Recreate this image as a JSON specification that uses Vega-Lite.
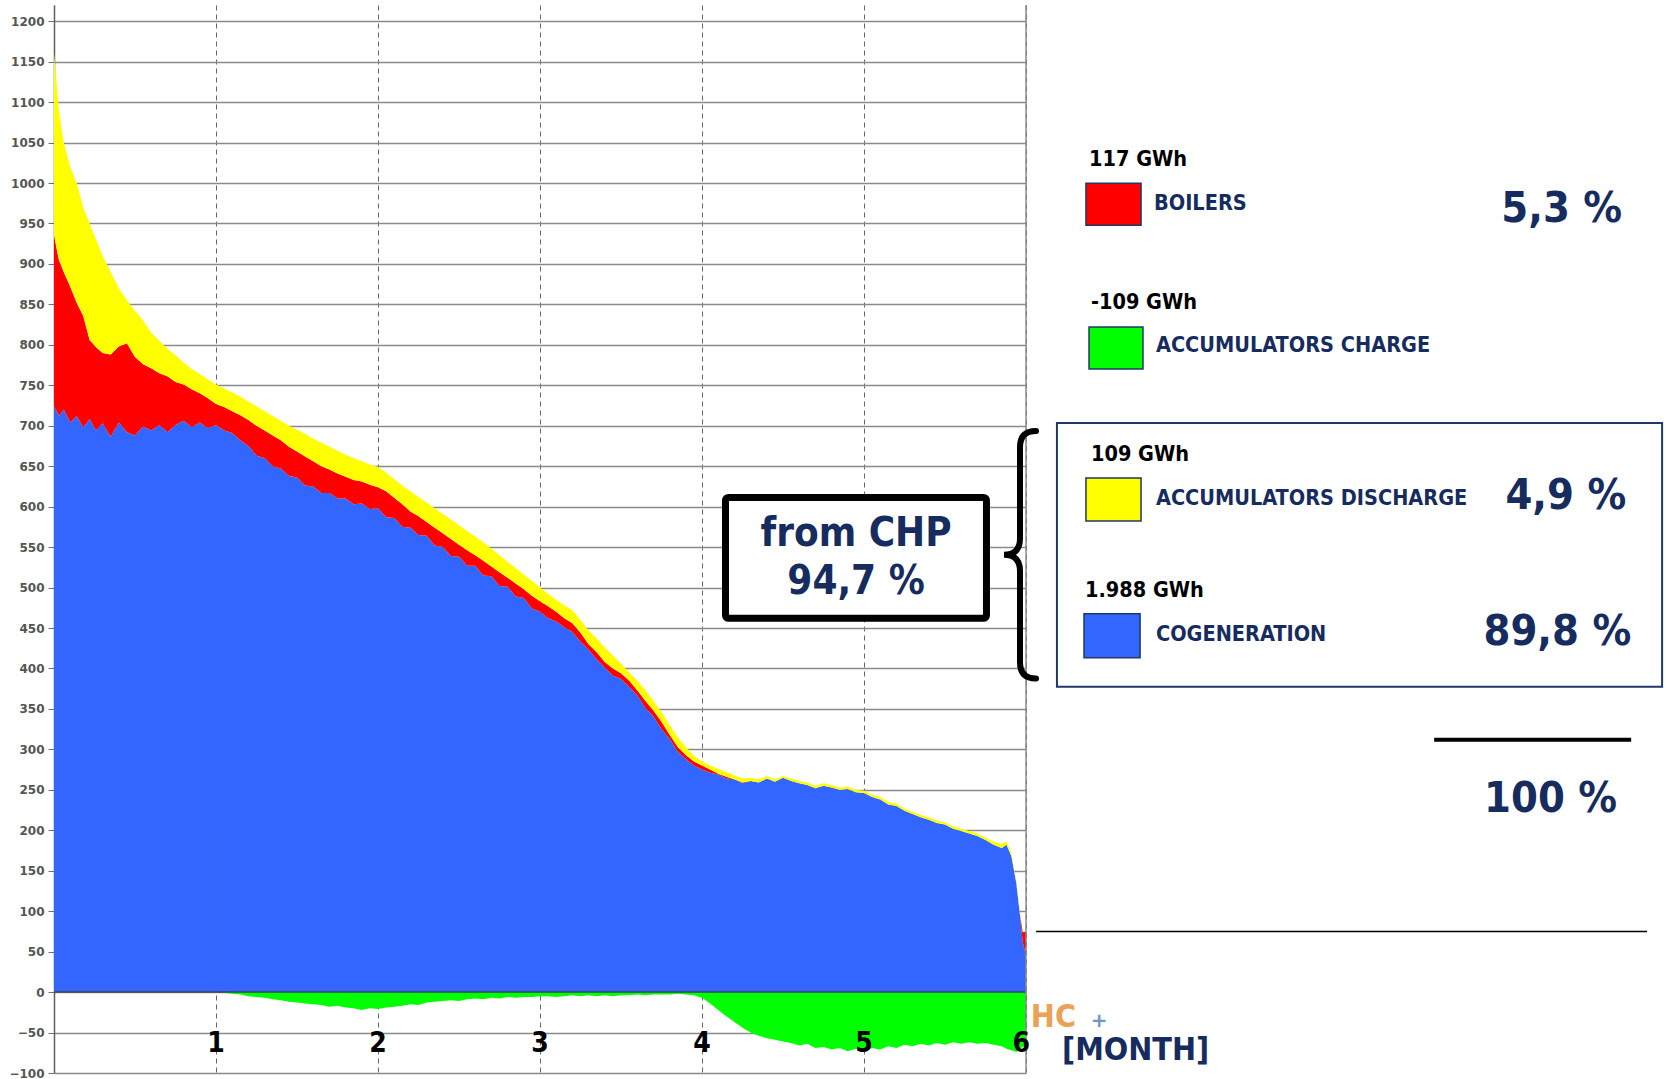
{
  "$schema": "https://vega.github.io/schema/vega-lite/v6.json",
  "background": "white",
  "padding": {"left": 8, "top": 4, "right": 0, "bottom": 0},
  "bounds": "flush",
  "spacing": 0,
  "config": {"view": {"stroke": null}, "font": "DejaVu Sans"},
  "datasets": {
    "load": [
      {"month":0.00,"cogeneration":725,"boilers":210,"accumulators_discharge":225,"accumulators_charge":0},
      {"month":0.03,"cogeneration":712,"boilers":193,"accumulators_discharge":185,"accumulators_charge":0},
      {"month":0.06,"cogeneration":720,"boilers":170,"accumulators_discharge":160,"accumulators_charge":0},
      {"month":0.10,"cogeneration":704,"boilers":168,"accumulators_discharge":148,"accumulators_charge":0},
      {"month":0.14,"cogeneration":712,"boilers":140,"accumulators_discharge":148,"accumulators_charge":0},
      {"month":0.18,"cogeneration":698,"boilers":138,"accumulators_discharge":134,"accumulators_charge":0},
      {"month":0.22,"cogeneration":708,"boilers":98,"accumulators_discharge":144,"accumulators_charge":0},
      {"month":0.26,"cogeneration":694,"boilers":103,"accumulators_discharge":133,"accumulators_charge":0},
      {"month":0.30,"cogeneration":703,"boilers":87,"accumulators_discharge":120,"accumulators_charge":0},
      {"month":0.35,"cogeneration":686,"boilers":102,"accumulators_discharge":102,"accumulators_charge":0},
      {"month":0.40,"cogeneration":704,"boilers":94,"accumulators_discharge":72,"accumulators_charge":0},
      {"month":0.45,"cogeneration":692,"boilers":110,"accumulators_discharge":53,"accumulators_charge":0},
      {"month":0.50,"cogeneration":688,"boilers":97,"accumulators_discharge":57,"accumulators_charge":0},
      {"month":0.55,"cogeneration":699,"boilers":77,"accumulators_discharge":54,"accumulators_charge":0},
      {"month":0.60,"cogeneration":694,"boilers":77,"accumulators_discharge":44,"accumulators_charge":0},
      {"month":0.65,"cogeneration":701,"boilers":64,"accumulators_discharge":40,"accumulators_charge":0},
      {"month":0.70,"cogeneration":692,"boilers":69,"accumulators_discharge":34,"accumulators_charge":0},
      {"month":0.75,"cogeneration":701,"boilers":53,"accumulators_discharge":33,"accumulators_charge":0},
      {"month":0.80,"cogeneration":706,"boilers":45,"accumulators_discharge":27,"accumulators_charge":0},
      {"month":0.85,"cogeneration":698,"boilers":47,"accumulators_discharge":25,"accumulators_charge":0},
      {"month":0.90,"cogeneration":704,"boilers":36,"accumulators_discharge":24,"accumulators_charge":0},
      {"month":0.95,"cogeneration":697,"boilers":37,"accumulators_discharge":23,"accumulators_charge":0},
      {"month":1.00,"cogeneration":701,"boilers":26,"accumulators_discharge":24,"accumulators_charge":0},
      {"month":1.05,"cogeneration":694,"boilers":29,"accumulators_discharge":23,"accumulators_charge":-1},
      {"month":1.10,"cogeneration":691,"boilers":27,"accumulators_discharge":23,"accumulators_charge":-2},
      {"month":1.15,"cogeneration":682,"boilers":31,"accumulators_discharge":23,"accumulators_charge":-3},
      {"month":1.20,"cogeneration":675,"boilers":32,"accumulators_discharge":23,"accumulators_charge":-5},
      {"month":1.25,"cogeneration":663,"boilers":37,"accumulators_discharge":24,"accumulators_charge":-6},
      {"month":1.30,"cogeneration":660,"boilers":34,"accumulators_discharge":24,"accumulators_charge":-7},
      {"month":1.35,"cogeneration":650,"boilers":38,"accumulators_discharge":24,"accumulators_charge":-9},
      {"month":1.40,"cogeneration":647,"boilers":35,"accumulators_discharge":24,"accumulators_charge":-10},
      {"month":1.45,"cogeneration":638,"boilers":36,"accumulators_discharge":26,"accumulators_charge":-12},
      {"month":1.50,"cogeneration":636,"boilers":32,"accumulators_discharge":27,"accumulators_charge":-13},
      {"month":1.55,"cogeneration":626,"boilers":36,"accumulators_discharge":28,"accumulators_charge":-14},
      {"month":1.60,"cogeneration":625,"boilers":31,"accumulators_discharge":28,"accumulators_charge":-15},
      {"month":1.65,"cogeneration":617,"boilers":33,"accumulators_discharge":29,"accumulators_charge":-16},
      {"month":1.70,"cogeneration":617,"boilers":29,"accumulators_discharge":28,"accumulators_charge":-18},
      {"month":1.75,"cogeneration":610,"boilers":31,"accumulators_discharge":28,"accumulators_charge":-17},
      {"month":1.80,"cogeneration":610,"boilers":27,"accumulators_discharge":27,"accumulators_charge":-19},
      {"month":1.85,"cogeneration":603,"boilers":30,"accumulators_discharge":27,"accumulators_charge":-20},
      {"month":1.90,"cogeneration":604,"boilers":27,"accumulators_discharge":25,"accumulators_charge":-22},
      {"month":1.95,"cogeneration":597,"boilers":30,"accumulators_discharge":25,"accumulators_charge":-20},
      {"month":2.00,"cogeneration":598,"boilers":26,"accumulators_discharge":25,"accumulators_charge":-21},
      {"month":2.05,"cogeneration":587,"boilers":32,"accumulators_discharge":23,"accumulators_charge":-19},
      {"month":2.10,"cogeneration":586,"boilers":25,"accumulators_discharge":23,"accumulators_charge":-18},
      {"month":2.15,"cogeneration":575,"boilers":28,"accumulators_discharge":23,"accumulators_charge":-17},
      {"month":2.20,"cogeneration":574,"boilers":20,"accumulators_discharge":25,"accumulators_charge":-15},
      {"month":2.25,"cogeneration":565,"boilers":23,"accumulators_discharge":24,"accumulators_charge":-16},
      {"month":2.30,"cogeneration":564,"boilers":17,"accumulators_discharge":24,"accumulators_charge":-13},
      {"month":2.35,"cogeneration":552,"boilers":22,"accumulators_discharge":24,"accumulators_charge":-12},
      {"month":2.40,"cogeneration":550,"boilers":17,"accumulators_discharge":24,"accumulators_charge":-11},
      {"month":2.45,"cogeneration":539,"boilers":21,"accumulators_discharge":24,"accumulators_charge":-10},
      {"month":2.50,"cogeneration":538,"boilers":15,"accumulators_discharge":24,"accumulators_charge":-11},
      {"month":2.55,"cogeneration":527,"boilers":19,"accumulators_discharge":24,"accumulators_charge":-9},
      {"month":2.60,"cogeneration":527,"boilers":13,"accumulators_discharge":23,"accumulators_charge":-8},
      {"month":2.65,"cogeneration":515,"boilers":18,"accumulators_discharge":23,"accumulators_charge":-9},
      {"month":2.70,"cogeneration":514,"boilers":12,"accumulators_discharge":22,"accumulators_charge":-7},
      {"month":2.75,"cogeneration":502,"boilers":17,"accumulators_discharge":21,"accumulators_charge":-8},
      {"month":2.80,"cogeneration":501,"boilers":11,"accumulators_discharge":20,"accumulators_charge":-6},
      {"month":2.85,"cogeneration":489,"boilers":16,"accumulators_discharge":19,"accumulators_charge":-7},
      {"month":2.90,"cogeneration":487,"boilers":11,"accumulators_discharge":18,"accumulators_charge":-6},
      {"month":2.95,"cogeneration":474,"boilers":16,"accumulators_discharge":18,"accumulators_charge":-6},
      {"month":3.00,"cogeneration":470,"boilers":13,"accumulators_discharge":17,"accumulators_charge":-5},
      {"month":3.05,"cogeneration":462,"boilers":15,"accumulators_discharge":15,"accumulators_charge":-5},
      {"month":3.10,"cogeneration":458,"boilers":12,"accumulators_discharge":15,"accumulators_charge":-6},
      {"month":3.15,"cogeneration":451,"boilers":11,"accumulators_discharge":16,"accumulators_charge":-5},
      {"month":3.20,"cogeneration":445,"boilers":11,"accumulators_discharge":16,"accumulators_charge":-4},
      {"month":3.25,"cogeneration":433,"boilers":11,"accumulators_discharge":16,"accumulators_charge":-5},
      {"month":3.30,"cogeneration":423,"boilers":7,"accumulators_discharge":17,"accumulators_charge":-4},
      {"month":3.35,"cogeneration":411,"boilers":9,"accumulators_discharge":17,"accumulators_charge":-5},
      {"month":3.40,"cogeneration":401,"boilers":7,"accumulators_discharge":18,"accumulators_charge":-4},
      {"month":3.45,"cogeneration":391,"boilers":9,"accumulators_discharge":16,"accumulators_charge":-5},
      {"month":3.50,"cogeneration":387,"boilers":7,"accumulators_discharge":12,"accumulators_charge":-4},
      {"month":3.55,"cogeneration":377,"boilers":8,"accumulators_discharge":10,"accumulators_charge":-4},
      {"month":3.60,"cogeneration":367,"boilers":6,"accumulators_discharge":12,"accumulators_charge":-3},
      {"month":3.65,"cogeneration":351,"boilers":9,"accumulators_discharge":13,"accumulators_charge":-4},
      {"month":3.70,"cogeneration":341,"boilers":7,"accumulators_discharge":12,"accumulators_charge":-3},
      {"month":3.75,"cogeneration":325,"boilers":9,"accumulators_discharge":12,"accumulators_charge":-3},
      {"month":3.80,"cogeneration":313,"boilers":5,"accumulators_discharge":12,"accumulators_charge":-3},
      {"month":3.85,"cogeneration":297,"boilers":6,"accumulators_discharge":12,"accumulators_charge":-2},
      {"month":3.90,"cogeneration":288,"boilers":5,"accumulators_discharge":10,"accumulators_charge":-3},
      {"month":3.95,"cogeneration":280,"boilers":5,"accumulators_discharge":7,"accumulators_charge":-4},
      {"month":4.00,"cogeneration":275,"boilers":5,"accumulators_discharge":5,"accumulators_charge":-7},
      {"month":4.05,"cogeneration":271,"boilers":4,"accumulators_discharge":5,"accumulators_charge":-14},
      {"month":4.10,"cogeneration":269,"boilers":1,"accumulators_discharge":6,"accumulators_charge":-22},
      {"month":4.15,"cogeneration":264,"boilers":2,"accumulators_discharge":6,"accumulators_charge":-30},
      {"month":4.20,"cogeneration":263,"boilers":0,"accumulators_discharge":5,"accumulators_charge":-37},
      {"month":4.25,"cogeneration":258,"boilers":1,"accumulators_discharge":5,"accumulators_charge":-44},
      {"month":4.30,"cogeneration":261,"boilers":0,"accumulators_discharge":4,"accumulators_charge":-50},
      {"month":4.35,"cogeneration":259,"boilers":0,"accumulators_discharge":4,"accumulators_charge":-54},
      {"month":4.40,"cogeneration":264,"boilers":0,"accumulators_discharge":3,"accumulators_charge":-57},
      {"month":4.45,"cogeneration":260,"boilers":0,"accumulators_discharge":3,"accumulators_charge":-59},
      {"month":4.50,"cogeneration":265,"boilers":0,"accumulators_discharge":2,"accumulators_charge":-61},
      {"month":4.55,"cogeneration":261,"boilers":0,"accumulators_discharge":3,"accumulators_charge":-63},
      {"month":4.60,"cogeneration":258,"boilers":0,"accumulators_discharge":3,"accumulators_charge":-66},
      {"month":4.65,"cogeneration":256,"boilers":0,"accumulators_discharge":3,"accumulators_charge":-64},
      {"month":4.70,"cogeneration":252,"boilers":0,"accumulators_discharge":3,"accumulators_charge":-69},
      {"month":4.75,"cogeneration":255,"boilers":0,"accumulators_discharge":3,"accumulators_charge":-68},
      {"month":4.80,"cogeneration":253,"boilers":0,"accumulators_discharge":3,"accumulators_charge":-71},
      {"month":4.85,"cogeneration":250,"boilers":0,"accumulators_discharge":3,"accumulators_charge":-69},
      {"month":4.90,"cogeneration":251,"boilers":0,"accumulators_discharge":3,"accumulators_charge":-73},
      {"month":4.95,"cogeneration":247,"boilers":0,"accumulators_discharge":3,"accumulators_charge":-70},
      {"month":5.00,"cogeneration":246,"boilers":0,"accumulators_discharge":3,"accumulators_charge":-73},
      {"month":5.05,"cogeneration":241,"boilers":0,"accumulators_discharge":3,"accumulators_charge":-69},
      {"month":5.10,"cogeneration":238,"boilers":0,"accumulators_discharge":3,"accumulators_charge":-71},
      {"month":5.15,"cogeneration":232,"boilers":0,"accumulators_discharge":3,"accumulators_charge":-67},
      {"month":5.20,"cogeneration":230,"boilers":0,"accumulators_discharge":3,"accumulators_charge":-69},
      {"month":5.25,"cogeneration":224,"boilers":0,"accumulators_discharge":3,"accumulators_charge":-65},
      {"month":5.30,"cogeneration":220,"boilers":0,"accumulators_discharge":3,"accumulators_charge":-67},
      {"month":5.35,"cogeneration":216,"boilers":0,"accumulators_discharge":3,"accumulators_charge":-64},
      {"month":5.40,"cogeneration":213,"boilers":0,"accumulators_discharge":3,"accumulators_charge":-66},
      {"month":5.45,"cogeneration":209,"boilers":0,"accumulators_discharge":3,"accumulators_charge":-63},
      {"month":5.50,"cogeneration":207,"boilers":0,"accumulators_discharge":3,"accumulators_charge":-65},
      {"month":5.55,"cogeneration":202,"boilers":0,"accumulators_discharge":3,"accumulators_charge":-62},
      {"month":5.60,"cogeneration":199,"boilers":0,"accumulators_discharge":3,"accumulators_charge":-64},
      {"month":5.65,"cogeneration":196,"boilers":0,"accumulators_discharge":3,"accumulators_charge":-62},
      {"month":5.70,"cogeneration":193,"boilers":0,"accumulators_discharge":3,"accumulators_charge":-64},
      {"month":5.75,"cogeneration":188,"boilers":0,"accumulators_discharge":3,"accumulators_charge":-63},
      {"month":5.80,"cogeneration":182,"boilers":0,"accumulators_discharge":4,"accumulators_charge":-65},
      {"month":5.85,"cogeneration":178,"boilers":0,"accumulators_discharge":5,"accumulators_charge":-67},
      {"month":5.88,"cogeneration":182,"boilers":0,"accumulators_discharge":4,"accumulators_charge":-70},
      {"month":5.91,"cogeneration":168,"boilers":0,"accumulators_discharge":4,"accumulators_charge":-72},
      {"month":5.94,"cogeneration":135,"boilers":0,"accumulators_discharge":3,"accumulators_charge":-74},
      {"month":5.96,"cogeneration":100,"boilers":0,"accumulators_discharge":2,"accumulators_charge":-70},
      {"month":5.98,"cogeneration":62,"boilers":12,"accumulators_discharge":1,"accumulators_charge":-68},
      {"month":6.00,"cogeneration":45,"boilers":30,"accumulators_discharge":0,"accumulators_charge":-65}
    ]
  },
  "hconcat": [
    {
      "width": 972,
      "height": 1068,
      "layer": [
        {
          "data": {"name": "load"},
          "transform": [
            {"fold": ["cogeneration", "boilers", "accumulators_discharge", "accumulators_charge"], "as": ["source", "mw"]},
            {"stack": "mw", "groupby": ["month"], "sort": [{"field": "source", "order": "descending"}], "offset": "zero", "as": ["lo", "hi"]}
          ],
          "mark": {"type": "area", "interpolate": "linear"},
          "encoding": {
            "x": {
              "field": "month", "type": "quantitative",
              "scale": {"domain": [0, 6], "nice": false, "zero": false},
              "axis": {
                "values": [0, 1, 2, 3, 4, 5, 6], "title": null,
                "grid": true, "gridDash": [5, 4], "gridColor": "#666666", "gridWidth": 1,
                "domain": false, "ticks": false, "labels": false
              }
            },
            "y": {
              "field": "hi", "type": "quantitative",
              "scale": {"domain": [-100, 1220], "nice": false, "zero": false},
              "axis": {
                "values": [-100, -50, 0, 50, 100, 150, 200, 250, 300, 350, 400, 450, 500, 550, 600, 650, 700, 750, 800, 850, 900, 950, 1000, 1050, 1100, 1150, 1200],
                "title": null, "format": "d", "grid": true, "gridColor": "#8a8a8a", "gridWidth": 1.5,
                "domainColor": "#606060", "domainWidth": 1.5,
                "tickColor": "#707070", "tickSize": 6,
                "labelFont": "DejaVu Sans", "labelFontWeight": "bold", "labelFontSize": 12,
                "labelColor": "#555555", "labelPadding": 4
              }
            },
            "y2": {"field": "lo"},
            "color": {
              "field": "source", "type": "nominal",
              "scale": {"domain": ["cogeneration", "boilers", "accumulators_discharge", "accumulators_charge"], "range": ["#3366FF", "#FF0000", "#FFFF00", "#00FF00"]},
              "legend": null
            }
          }
        },
        {
          "data": {"values": [{}]},
          "mark": {"type": "rule", "color": "#3b4256", "strokeWidth": 1.5},
          "encoding": {"y": {"datum": 0}}
        },
        {
          "data": {"values": [{}]},
          "mark": {"type": "rule", "color": "#8a8a8a", "strokeWidth": 1.5},
          "encoding": {"x": {"datum": 6}}
        },
        {
          "data": {"values": [{"month": 1}, {"month": 2}, {"month": 3}, {"month": 4}, {"month": 5}]},
          "mark": {"type": "text", "align": "center", "baseline": "middle", "font": "Liberation Sans Narrow, DejaVu Sans Condensed, Liberation Sans", "fontWeight": "bold", "fontSize": 28, "color": "#000000"},
          "encoding": {"x": {"field": "month", "type": "quantitative"}, "y": {"datum": -64}, "text": {"field": "month", "type": "quantitative", "format": "d"}}
        },
        {
          "data": {"values": [{"month": 6}]},
          "mark": {"type": "text", "align": "right", "baseline": "middle", "dx": 4, "font": "Liberation Sans Narrow, DejaVu Sans Condensed, Liberation Sans", "fontWeight": "bold", "fontSize": 28, "color": "#000000"},
          "encoding": {"x": {"field": "month", "type": "quantitative"}, "y": {"datum": -64}, "text": {"field": "month", "type": "quantitative", "format": "d"}}
        },
        {
          "data": {"values": [{}]},
          "mark": {"type": "rect", "fill": "white", "stroke": "black", "strokeWidth": 7, "cornerRadius": 3},
          "encoding": {"x": {"datum": 4.145}, "x2": {"datum": 5.756}, "y": {"datum": 462}, "y2": {"datum": 611.4}}
        },
        {
          "data": {"values": [{}]},
          "mark": {"type": "text", "text": "from CHP", "align": "center", "baseline": "middle", "font": "DejaVu Sans Condensed, DejaVu Sans", "fontWeight": "bold", "fontSize": 40, "color": "#172C5E"},
          "encoding": {"x": {"datum": 4.951}, "y": {"datum": 566}}
        },
        {
          "data": {"values": [{}]},
          "mark": {"type": "text", "text": "94,7 %", "align": "center", "baseline": "middle", "font": "DejaVu Sans Condensed, DejaVu Sans", "fontWeight": "bold", "fontSize": 40, "color": "#172C5E"},
          "encoding": {"x": {"datum": 4.951}, "y": {"datum": 507}}
        }
      ]
    },
    {
      "width": 640,
      "height": 1068,
      "layer": [
        {
          "data": {"values": [{}]},
          "mark": {"type": "rect", "fill": "white", "fillOpacity": 0, "stroke": "#1F3864", "strokeWidth": 2},
          "encoding": {
            "x": {"datum": 6.191, "type": "quantitative", "scale": {"domain": [6, 9.95], "nice": false, "zero": false}, "axis": null},
            "x2": {"datum": 9.926},
            "y": {"datum": 377.4, "type": "quantitative", "scale": {"domain": [-100, 1220], "nice": false, "zero": false}, "axis": null},
            "y2": {"datum": 703.3}
          }
        },
        {
          "data": {"values": [{}]},
          "mark": {"type": "rect", "fill": "#FF0000", "stroke": "#1F3864", "strokeWidth": 1.5},
          "encoding": {"x": {"datum": 6.370, "axis": null}, "x2": {"datum": 6.710}, "y": {"datum": 947.8, "axis": null}, "y2": {"datum": 999.6}}
        },
        {
          "data": {"values": [{}]},
          "mark": {"type": "rect", "fill": "#00FF00", "stroke": "#1F3864", "strokeWidth": 1.5},
          "encoding": {"x": {"datum": 6.389, "axis": null}, "x2": {"datum": 6.722}, "y": {"datum": 770.0, "axis": null}, "y2": {"datum": 821.9}}
        },
        {
          "data": {"values": [{}]},
          "mark": {"type": "rect", "fill": "#FFFF00", "stroke": "#1F3864", "strokeWidth": 1.5},
          "encoding": {"x": {"datum": 6.370, "axis": null}, "x2": {"datum": 6.710}, "y": {"datum": 582.3, "axis": null}, "y2": {"datum": 635.4}}
        },
        {
          "data": {"values": [{}]},
          "mark": {"type": "rect", "fill": "#3366FF", "stroke": "#1F3864", "strokeWidth": 1.5},
          "encoding": {"x": {"datum": 6.358, "axis": null}, "x2": {"datum": 6.704}, "y": {"datum": 413.2, "axis": null}, "y2": {"datum": 467.5}}
        },
        {
          "data": {"values": [{}]},
          "mark": {"type": "text", "text": "117 GWh", "align": "left", "baseline": "middle", "font": "DejaVu Sans Condensed, DejaVu Sans", "fontWeight": "bold", "fontSize": 21.5, "color": "#000000"},
          "encoding": {"x": {"datum": 6.389, "axis": null}, "y": {"datum": 1029, "axis": null}}
        },
        {
          "data": {"values": [{}]},
          "mark": {"type": "text", "text": "-109 GWh", "align": "left", "baseline": "middle", "font": "DejaVu Sans Condensed, DejaVu Sans", "fontWeight": "bold", "fontSize": 21.5, "color": "#000000"},
          "encoding": {"x": {"datum": 6.401, "axis": null}, "y": {"datum": 851.5, "axis": null}}
        },
        {
          "data": {"values": [{}]},
          "mark": {"type": "text", "text": "109 GWh", "align": "left", "baseline": "middle", "font": "DejaVu Sans Condensed, DejaVu Sans", "fontWeight": "bold", "fontSize": 21.5, "color": "#000000"},
          "encoding": {"x": {"datum": 6.401, "axis": null}, "y": {"datum": 663.8, "axis": null}}
        },
        {
          "data": {"values": [{}]},
          "mark": {"type": "text", "text": "1.988 GWh", "align": "left", "baseline": "middle", "font": "DejaVu Sans Condensed, DejaVu Sans", "fontWeight": "bold", "fontSize": 21.5, "color": "#000000"},
          "encoding": {"x": {"datum": 6.364, "axis": null}, "y": {"datum": 495.9, "axis": null}}
        },
        {
          "data": {"values": [{}]},
          "mark": {"type": "text", "text": "BOILERS", "align": "left", "baseline": "middle", "font": "DejaVu Sans Condensed, DejaVu Sans", "fontWeight": "bold", "fontSize": 21.5, "color": "#172C5E"},
          "encoding": {"x": {"datum": 6.790, "axis": null}, "y": {"datum": 973.7, "axis": null}}
        },
        {
          "data": {"values": [{}]},
          "mark": {"type": "text", "text": "ACCUMULATORS CHARGE", "align": "left", "baseline": "middle", "font": "DejaVu Sans Condensed, DejaVu Sans", "fontWeight": "bold", "fontSize": 21.5, "color": "#172C5E"},
          "encoding": {"x": {"datum": 6.802, "axis": null}, "y": {"datum": 798.4, "axis": null}}
        },
        {
          "data": {"values": [{}]},
          "mark": {"type": "text", "text": "ACCUMULATORS DISCHARGE", "align": "left", "baseline": "middle", "font": "DejaVu Sans Condensed, DejaVu Sans", "fontWeight": "bold", "fontSize": 21.5, "color": "#172C5E"},
          "encoding": {"x": {"datum": 6.802, "axis": null}, "y": {"datum": 609.5, "axis": null}}
        },
        {
          "data": {"values": [{}]},
          "mark": {"type": "text", "text": "COGENERATION", "align": "left", "baseline": "middle", "font": "DejaVu Sans Condensed, DejaVu Sans", "fontWeight": "bold", "fontSize": 21.5, "color": "#172C5E"},
          "encoding": {"x": {"datum": 6.802, "axis": null}, "y": {"datum": 441.6, "axis": null}}
        },
        {
          "data": {"values": [{}]},
          "mark": {"type": "text", "text": "5,3 %", "align": "right", "baseline": "middle", "font": "DejaVu Sans Condensed, DejaVu Sans", "fontWeight": "bold", "fontSize": 43, "color": "#172C5E"},
          "encoding": {"x": {"datum": 9.679, "axis": null}, "y": {"datum": 967.5, "axis": null}}
        },
        {
          "data": {"values": [{}]},
          "mark": {"type": "text", "text": "4,9 %", "align": "right", "baseline": "middle", "font": "DejaVu Sans Condensed, DejaVu Sans", "fontWeight": "bold", "fontSize": 43, "color": "#172C5E"},
          "encoding": {"x": {"datum": 9.704, "axis": null}, "y": {"datum": 613.2, "axis": null}}
        },
        {
          "data": {"values": [{}]},
          "mark": {"type": "text", "text": "89,8 %", "align": "right", "baseline": "middle", "font": "DejaVu Sans Condensed, DejaVu Sans", "fontWeight": "bold", "fontSize": 43, "color": "#172C5E"},
          "encoding": {"x": {"datum": 9.735, "axis": null}, "y": {"datum": 445.3, "axis": null}}
        },
        {
          "data": {"values": [{}]},
          "mark": {"type": "text", "text": "100 %", "align": "right", "baseline": "middle", "font": "DejaVu Sans Condensed, DejaVu Sans", "fontWeight": "bold", "fontSize": 43, "color": "#172C5E"},
          "encoding": {"x": {"datum": 9.648, "axis": null}, "y": {"datum": 239.1, "axis": null}}
        },
        {
          "data": {"values": [{}]},
          "mark": {"type": "rule", "color": "#000000", "strokeWidth": 4},
          "encoding": {"x": {"datum": 8.519, "axis": null}, "x2": {"datum": 9.735}, "y": {"datum": 312, "axis": null}}
        },
        {
          "data": {"values": [{}]},
          "mark": {"type": "rule", "color": "#000000", "strokeWidth": 1.5},
          "encoding": {"x": {"datum": 6.062, "axis": null}, "x2": {"datum": 9.833}, "y": {"datum": 75, "axis": null}}
        },
        {
          "data": {"values": [{}]},
          "mark": {"type": "text", "text": "HC", "align": "left", "baseline": "middle", "font": "DejaVu Sans Condensed, DejaVu Sans", "fontWeight": "bold", "fontSize": 32, "color": "#E8923A", "opacity": 0.85},
          "encoding": {"x": {"datum": 6.03, "axis": null}, "y": {"datum": -31, "axis": null}}
        },
        {
          "data": {"values": [{}]},
          "mark": {"type": "text", "text": "+", "align": "left", "baseline": "middle", "font": "DejaVu Sans", "fontWeight": "bold", "fontSize": 20, "color": "#6E98C0"},
          "encoding": {"x": {"datum": 6.40, "axis": null}, "y": {"datum": -36, "axis": null}}
        },
        {
          "data": {"values": [{}]},
          "mark": {"type": "text", "text": "[MONTH]", "align": "left", "baseline": "middle", "font": "DejaVu Sans Condensed, DejaVu Sans", "fontWeight": "bold", "fontSize": 32, "color": "#172C5E"},
          "encoding": {"x": {"datum": 6.222, "axis": null}, "y": {"datum": -72, "axis": null}}
        },
        {
          "data": {"values": [{}]},
          "mark": {"type": "point", "shape": "M0.128,-0.99Q0,-0.99 0,-0.86L0,-0.13Q0,0 -0.128,0Q0,0 0,0.13L0,0.86Q0,0.99 0.128,0.99", "size": 62500, "filled": false, "stroke": "#000000", "strokeWidth": 6, "opacity": 1, "strokeCap": "round"},
          "encoding": {"x": {"datum": 5.963, "axis": null}, "y": {"datum": 540.4, "axis": null}}
        }
      ]
    }
  ]
}
